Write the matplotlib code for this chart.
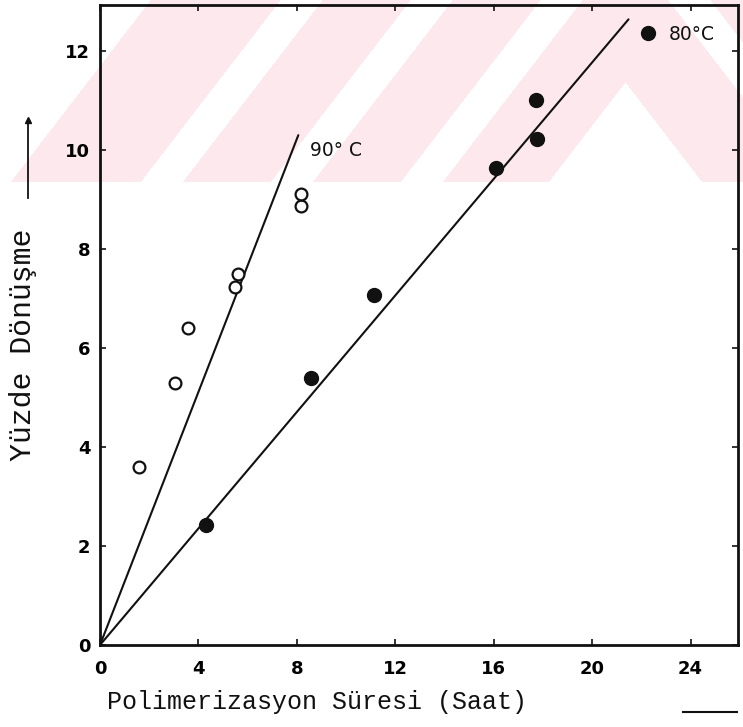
import numpy as np
import matplotlib
matplotlib.use("Agg")
import matplotlib.pyplot as plt
from matplotlib.lines import Line2D

# ---------------- data ----------------
# 90 °C (open circles)
t90 = [1.60, 3.05, 3.59, 5.49, 5.60, 8.17, 8.17]
c90 = [3.60, 5.30, 6.41, 7.24, 7.50, 8.87, 9.11]
# 80 °C (filled circles)
t80 = [4.31, 8.58, 11.15, 16.08, 17.75, 17.72, 22.29]
c80 = [2.42, 5.40, 7.08, 9.63, 10.22, 11.01, 12.36]
# straight lines through origin
line90_t = [0.0, 8.06]
line90_c = [0.0, 10.30]
line80_t = [0.0, 21.48]
line80_c = [0.0, 12.64]

xticks = [0, 4, 8, 12, 16, 20, 24]
yticks = [0, 2, 4, 6, 8, 10, 12]
xlabel = "Polimerizasyon Süresi (Saat)"
ylabel = "Yüzde Dönüşme"

W, H = 743, 727
fig = plt.figure(figsize=(W / 100, H / 100), dpi=100)

# ---------------- background watermark (scan artefact) ----------------
bg = fig.add_axes([0, 0, 1, 1], zorder=-5)
yy, xx = np.mgrid[0:H, 0:W].astype(float)
v = 625 - np.abs(xx - 625) + yy / 1.3
stripes = (v >= 280) & (v < 650) & (((v - 280) % 130) < 42)
white = (v < 150) | stripes | (v > 688)
pink = (yy < 182) & ~white
img = np.ones((H, W, 3))
img[pink] = np.array([253, 233, 237]) / 255.0
bg.imshow(img, extent=[0, W, H, 0], aspect="auto", interpolation="nearest")
bg.set_xlim(0, W)
bg.set_ylim(H, 0)
bg.axis("off")

# ---------------- main axes ----------------
L, R, B, T = 100, 738, 645, 5
ax = fig.add_axes([L / W, (H - B) / H, (R - L) / W, (B - T) / H])
ax.set_facecolor("none")
ink = "#111111"

ax.plot(line90_t, line90_c, color=ink, lw=1.5, solid_capstyle="round")
ax.plot(line80_t, line80_c, color=ink, lw=1.5, solid_capstyle="round")
ax.plot(t90, c90, linestyle="none", marker="o", ms=8.5, mfc="white",
        mec=ink, mew=1.6, zorder=3)
ax.plot(t80, c80, linestyle="none", marker="o", ms=10, mfc=ink,
        mec=ink, zorder=3)

ax.set_xlim(0, 25.93)
ax.set_ylim(0, 12.93)
ax.set_xticks(xticks)
ax.set_yticks(yticks)

tickfont = dict(family=["Liberation Sans Narrow", "DejaVu Sans"],
                weight="bold", size=13)
ax.set_xticklabels([str(t) for t in xticks], **tickfont)
ax.set_yticklabels([str(t) for t in yticks], **tickfont)
ax.tick_params(direction="in", length=4, width=1.2, color=ink,
               top=True, right=True)
ax.tick_params(axis="x", pad=11)
ax.tick_params(axis="y", pad=7)
for s in ax.spines.values():
    s.set_linewidth(2.0)
    s.set_color(ink)

lblfont = dict(family=["Liberation Mono", "DejaVu Sans Mono"], color=ink)
ax.set_xlabel(xlabel, ha="left", size=18, **lblfont)
ax.xaxis.set_label_coords((107 - L) / (R - L), (B - 690) / (B - T),
                          transform=ax.transAxes)
ax.set_ylabel(ylabel, size=21.5, **lblfont)
ax.yaxis.set_label_coords((37 - L) / (R - L), (B - 345) / (B - T),
                          transform=ax.transAxes)

annfont = dict(family=["Liberation Sans Narrow", "DejaVu Sans"], size=13.5,
               color=ink)
ax.text(8.55, 10.0, "90° C", va="center", ha="left", **annfont)
ax.text(23.1, 12.33, "80°C", va="center", ha="left", **annfont)

# direction marks next to the axis titles
fig.add_artist(Line2D([683 / W, 737 / W], [1 - 712 / H, 1 - 712 / H],
                      color=ink, lw=1.5))
fig.add_artist(Line2D([28 / W, 28 / W], [1 - 198 / H, 1 - 120 / H],
                      color=ink, lw=1.3))
fig.add_artist(Line2D([28 / W], [1 - 120 / H], marker="^", ms=4,
                      color=ink, lw=0))

fig.savefig("out.png", dpi=100)
